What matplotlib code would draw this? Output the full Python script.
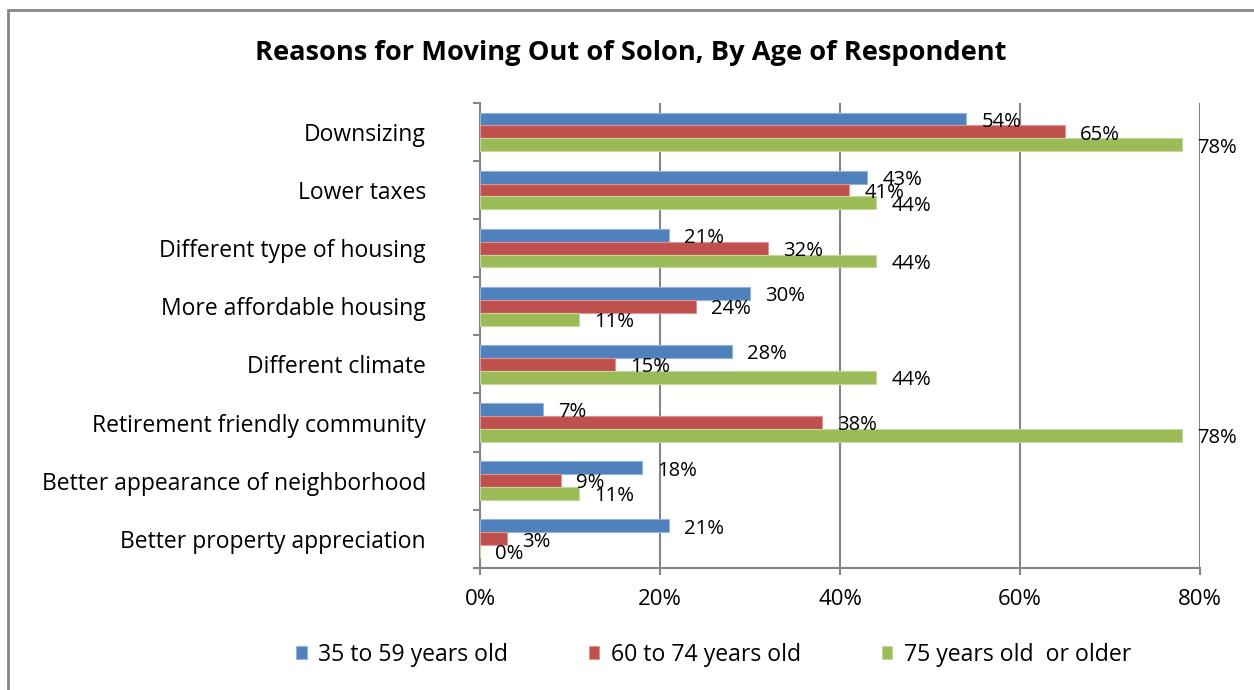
import numpy as np
import matplotlib
matplotlib.use('agg')
import matplotlib.pyplot as plt
from matplotlib.patches import Rectangle
from matplotlib.ticker import FixedLocator, PercentFormatter

plt.rcParams['font.family'] = ['Open Sans', 'DejaVu Sans']

reasons = ['Downsizing', 'Lower taxes', 'Different type of housing',
           'More affordable housing', 'Different climate',
           'Retirement friendly community',
           'Better appearance of neighborhood',
           'Better property appreciation']
age_35_59 = [54, 43, 21, 30, 28, 7, 18, 21]
age_60_74 = [65, 41, 32, 24, 15, 38, 9, 3]
age_75_up = [78, 44, 44, 11, 44, 78, 11, 0]
groups = ['35 to 59 years old', '60 to 74 years old', '75 years old  or older']
colors = ['#4F81BD', '#C0504D', '#9BBB59']
edges = ['#95B3D7', '#D99694', '#C3D69B']

fig = plt.figure(figsize=(12.54, 6.9), dpi=100)
ax = fig.add_axes([0.3828, 0.177, 0.5742, 0.674])

# chart border (only the top and left edges fall inside the image)
fig.patches.append(Rectangle((8 / 1254, -0.1), 2, 1.1 - 10 / 690,
                             transform=fig.transFigure, fill=False,
                             edgecolor='#868686', linewidth=2))

y = np.arange(len(reasons))
h = 0.222
for k, (vals, c, ec) in enumerate(zip([age_35_59, age_60_74, age_75_up], colors, edges)):
    pos = y + (k - 1) * h
    ax.barh(pos, vals, height=h, color=c, edgecolor=ec, linewidth=0.8,
            label=groups[k], zorder=3)
    for p, v in zip(pos, vals):
        ax.annotate('%d%%' % v, (v, p), xytext=(11, -2),
                    textcoords='offset points', ha='left', va='center',
                    fontsize=14.6, color='black', zorder=4)

ax.set_ylim(len(reasons) - 0.5, -0.5)
ax.set_xlim(0, 80)
ax.set_yticks(y)
ax.set_yticklabels(reasons, fontsize=16.5)
ax.yaxis.set_minor_locator(FixedLocator(np.arange(len(reasons) + 1) - 0.5))
ax.tick_params(axis='y', which='major', length=0, pad=39)
ax.tick_params(axis='y', which='minor', length=5, width=1.5, color='#868686')
ax.set_xticks([0, 20, 40, 60, 80])
ax.xaxis.set_major_formatter(PercentFormatter(decimals=0))
ax.tick_params(axis='x', length=5, width=1.5, color='#868686',
               labelsize=16, pad=10)

ax.grid(axis='x', color='#868686', linewidth=1.5, zorder=0)
for s in ['top', 'right']:
    ax.spines[s].set_visible(False)
for s in ['left', 'bottom']:
    ax.spines[s].set_color('#868686')
    ax.spines[s].set_linewidth(1.5)

fig.text(0.503, 0.923, 'Reasons for Moving Out of Solon, By Age of Respondent',
         ha='center', va='center', fontsize=19.6, fontweight='bold')

fig.legend(loc='center', bbox_to_anchor=(0.569, 0.051), ncol=3, frameon=False,
           fontsize=16.6, handlelength=0.45, handleheight=0.45,
           handletextpad=0.5, columnspacing=3.5)

fig.savefig('out.png', dpi=100)
